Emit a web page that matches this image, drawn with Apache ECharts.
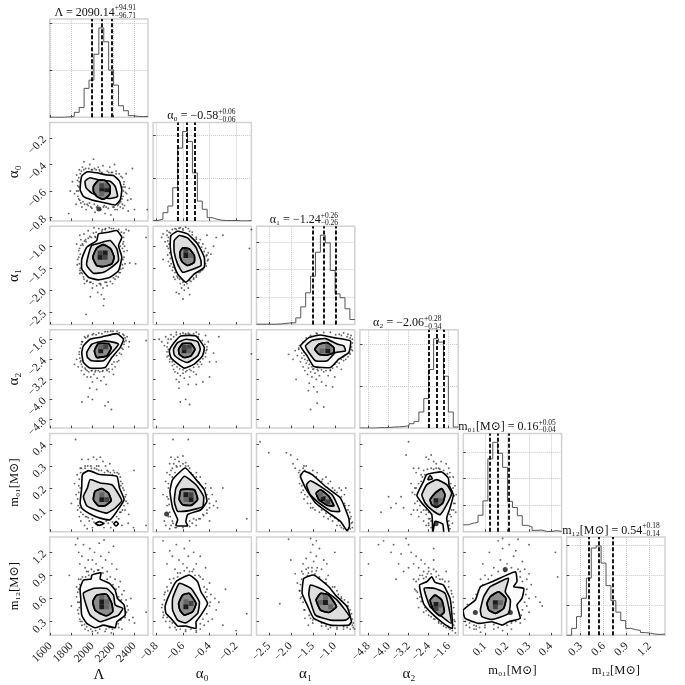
<!DOCTYPE html>
<html>
<head>
<meta charset="utf-8">
<style>html,body{margin:0;padding:0;background:#fff}#chart{width:685px;height:685px}</style>
<script src="https://cdn.jsdelivr.net/npm/echarts@6/dist/echarts.min.js"></script>
</head>
<body>
<div id="chart"></div>
<script>
// parameter names, ranges and tick labels
var names = ['Λ', 'α₀', 'α₁', 'α₂', 'm₀₁[M⊙]', 'm₁₂[M⊙]'];
var ranges = [[1594, 2528], [-0.825, -0.085], [-2.78, -0.545], [-5.145, -1.22], [0.0014, 0.448], [0.119, 1.40]];
var ticks = [
    [1600, 1800, 2000, 2200, 2400],
    [-0.8, -0.6, -0.4, -0.2],
    [-2.5, -2.0, -1.5, -1.0],
    [-4.8, -4.0, -3.2, -2.4, -1.6],
    [0.1, 0.2, 0.3, 0.4],
    [0.3, 0.6, 0.9, 1.2]
];
var tickDigits = [0, 1, 1, 1, 1, 1];

// 1d histograms, 20 bins each
var hist0 = [0, 0, 0, 2, 4, 21, 42, 123, 158, 268, 380, 321, 201, 137, 49, 28, 7, 4, 3, 4];
var hist1 = [2, 8, 38, 69, 154, 338, 415, 369, 223, 92, 54, 15, 8, 3, 2, 2, 2, 0, 0, 2];
var hist2 = [1, 1, 1, 1, 2, 4, 6, 6, 24, 64, 115, 175, 262, 324, 296, 196, 111, 97, 57, 18];
var hist3 = [0, 0, 0, 2, 2, 3, 5, 6, 8, 11, 21, 32, 77, 141, 280, 427, 411, 248, 77, 5];
var hist4 = [26, 32, 35, 62, 116, 274, 336, 295, 242, 114, 91, 60, 24, 18, 5, 6, 1, 1, 4, 1];
var hist5 = [0, 23, 62, 123, 190, 290, 297, 240, 165, 115, 77, 49, 23, 19, 16, 9, 7, 4, 3, 4];
var hists = [hist0, hist1, hist2, hist3, hist4, hist5];
var histTicks = [[200, 400], [200, 400], [100, 200, 300], [200, 400], [100, 200, 300], [100, 200, 300]];

// 16/50/84 quantiles and the titles
var quantiles = [[1993.4, 2090.1, 2185], [-0.635, -0.575, -0.513], [-1.5, -1.24, -0.98], [-2.4, -2.06, -1.78], [0.12, 0.16, 0.21], [0.40, 0.54, 0.72]];
var titleMain = ['Λ = 2090.14', 'α₀ = −0.58', 'α₁ = −1.24', 'α₂ = −2.06', 'm₀₁[M⊙] = 0.16', 'm₁₂[M⊙] = 0.54'];
var titleUp = ['+94.91', '+0.06', '+0.26', '+0.28', '+0.05', '+0.18'];
var titleDown = ['−96.71', '−0.06', '−0.26', '−0.34', '−0.04', '−0.14'];

// contours [outer, middle, inner], key is row_col
var contours = {
'1_0': [
 [[1883,-.59],[1898,-.488],[1952,-.455],[2041,-.463],[2137,-.48],[2200,-.483],[2257,-.526],[2279,-.59],[2264,-.667],[2216,-.705],[2105,-.687],[1994,-.667],[1914,-.641]],
 [[1930,-.526],[1978,-.5],[2073,-.519],[2168,-.526],[2216,-.565],[2238,-.641],[2168,-.656],[2073,-.641],[1994,-.616],[1940,-.577]],
 [[2010,-.565],[2057,-.519],[2121,-.521],[2168,-.565],[2162,-.628],[2105,-.662],[2041,-.641],[2010,-.603]]],
'2_0': [
 [[1899,-1.289],[1946,-1.023],[2041,-.872],[2057,-.72],[2152,-.682],[2232,-.645],[2279,-.796],[2248,-.985],[2279,-1.251],[2248,-1.554],[2168,-1.705],[2057,-1.766],[1962,-1.705],[1899,-1.516]],
 [[1956,-1.251],[1994,-.985],[2073,-.925],[2168,-.872],[2232,-1.061],[2248,-1.326],[2184,-1.478],[2105,-1.592],[2010,-1.614],[1946,-1.44]],
 [[2003,-1.251],[2041,-1.039],[2105,-.963],[2175,-1.061],[2206,-1.251],[2184,-1.402],[2105,-1.463],[2041,-1.44]]],
'2_1': [
 [[-.691,-.758],[-.641,-.66],[-.566,-.72],[-.49,-.948],[-.44,-1.251],[-.44,-1.478],[-.515,-1.63],[-.578,-1.819],[-.641,-1.63],[-.678,-1.326],[-.696,-1.023]],
 [[-.666,-.872],[-.628,-.758],[-.566,-.811],[-.503,-1.023],[-.465,-1.326],[-.465,-1.44],[-.54,-1.539],[-.603,-1.592],[-.641,-1.402],[-.666,-1.137]],
 [[-.623,-1.137],[-.603,-1.039],[-.553,-1.061],[-.515,-1.213],[-.515,-1.364],[-.566,-1.44],[-.603,-1.364],[-.621,-1.251]]],
'3_0': [
 [[1899,-2.128],[1914,-1.863],[1978,-1.598],[2089,-1.506],[2232,-1.373],[2295,-1.598],[2263,-1.929],[2184,-2.326],[2121,-2.723],[1978,-2.749],[1914,-2.524]],
 [[1946,-2.128],[1994,-1.797],[2105,-1.665],[2216,-1.731],[2248,-1.797],[2184,-2.128],[2105,-2.458],[1994,-2.458],[1953,-2.326]],
 [[2019,-2.061],[2057,-1.77],[2152,-1.77],[2178,-1.956],[2137,-2.26],[2041,-2.326]]],
'3_1': [
 [[-.703,-2.061],[-.666,-1.731],[-.616,-1.466],[-.503,-1.466],[-.44,-1.929],[-.453,-2.26],[-.515,-2.591],[-.591,-2.749],[-.653,-2.524],[-.691,-2.326]],
 [[-.671,-1.995],[-.641,-1.731],[-.578,-1.598],[-.49,-1.691],[-.47,-1.995],[-.49,-2.26],[-.566,-2.524],[-.628,-2.392],[-.666,-2.22]],
 [[-.633,-1.995],[-.603,-1.77],[-.54,-1.77],[-.51,-1.995],[-.54,-2.26],[-.591,-2.326],[-.628,-2.194]]],
'3_2': [
 [[-1.78,-1.863],[-1.59,-1.533],[-1.325,-1.427],[-1.022,-1.533],[-.644,-1.665],[-.682,-2.128],[-.909,-2.392],[-1.098,-2.723],[-1.477,-2.684],[-1.628,-2.26]],
 [[-1.666,-1.863],[-1.515,-1.638],[-1.212,-1.572],[-.932,-1.797],[-.795,-1.863],[-.757,-2.062],[-.985,-2.128],[-1.174,-2.459],[-1.439,-2.459],[-1.59,-2.128]],
 [[-1.454,-1.996],[-1.363,-1.797],[-1.174,-1.731],[-1.022,-1.93],[-1.022,-2.128],[-1.174,-2.234],[-1.363,-2.194]]],
'4_0': [
 [[1883,.132],[1898,.2],[1905,.261],[1962,.279],[2073,.261],[2232,.253],[2257,.2],[2301,.147],[2232,.094],[2168,.056],[2073,.063],[1978,.082],[1898,.109]],
 [[1914,.162],[1952,.2],[1978,.238],[2073,.223],[2184,.215],[2232,.185],[2279,.142],[2216,.109],[2136,.086],[2025,.101],[1946,.119]],
 [[2009,.147],[2025,.185],[2089,.197],[2152,.177],[2178,.142],[2120,.119],[2057,.119]]],
'4_1': [
 [[-.698,.185],[-.678,.238],[-.583,.291],[-.502,.238],[-.44,.192],[-.42,.139],[-.465,.101],[-.565,.079],[-.578,.045],[-.565,.029],[-.653,.029],[-.64,.056],[-.678,.109]],
 [[-.665,.139],[-.653,.2],[-.59,.253],[-.502,.215],[-.445,.162],[-.452,.116],[-.553,.097],[-.64,.094]],
 [[-.628,.147],[-.615,.192],[-.515,.192],[-.49,.147],[-.54,.121],[-.603,.124]]],
'4_2': [
 [[-1.78,.253],[-1.704,.276],[-1.515,.261],[-1.212,.207],[-.871,.154],[-.682,.063],[-.667,.026],[-.72,.006],[-.871,.048],[-1.136,.086],[-1.439,.132],[-1.666,.2]],
 [[-1.643,.215],[-1.552,.233],[-1.325,.207],[-1.06,.169],[-.886,.094],[-1.098,.097],[-1.363,.132],[-1.568,.173]],
 [[-1.424,.177],[-1.325,.192],[-1.136,.162],[-1.022,.119],[-1.174,.121],[-1.363,.147]]],
'4_3': [
 [[-2.87,.166],[-2.605,.23],[-2.473,.261],[-1.878,.273],[-1.613,.245],[-1.587,.215],[-1.415,.169],[-1.547,.109],[-1.679,.063],[-1.587,-.005],[-1.785,-.005],[-1.838,.036],[-2.142,.048],[-2.235,-.005],[-2.275,.079],[-2.671,.132]],
 [[-2.671,.169],[-2.473,.215],[-2.076,.238],[-1.679,.215],[-1.481,.177],[-1.679,.124],[-1.944,.079],[-2.275,.101],[-2.54,.132]],
 [[-2.341,.147],[-2.143,.177],[-1.878,.197],[-1.745,.169],[-1.838,.132],[-2.076,.112],[-2.275,.124]]],
'5_0': [
 [[1883,.73],[1914,.839],[1987,.852],[1994,.904],[2082,.934],[2073,.852],[2162,.795],[2216,.708],[2238,.6],[2301,.513],[2311,.382],[2232,.295],[2216,.217],[2105,.252],[2025,.217],[1946,.274],[1898,.382],[1889,.6]],
 [[1914,.665],[2009,.73],[2136,.73],[2200,.643],[2216,.513],[2289,.469],[2247,.382],[2168,.339],[2073,.295],[1978,.382],[1940,.513]],
 [[2003,.556],[2041,.643],[2136,.652],[2184,.534],[2193,.426],[2136,.373],[2073,.404],[2025,.447]]],
'5_1': [
 [[-.735,.491],[-.715,.6],[-.653,.817],[-.553,.904],[-.49,.817],[-.465,.687],[-.415,.534],[-.465,.382],[-.502,.295],[-.502,.208],[-.578,.239],[-.64,.239],[-.69,.339],[-.728,.404]],
 [[-.678,.6],[-.628,.795],[-.54,.73],[-.477,.556],[-.49,.404],[-.578,.282],[-.64,.317],[-.678,.447]],
 [[-.633,.534],[-.603,.643],[-.553,.665],[-.502,.534],[-.527,.426],[-.59,.382],[-.623,.447]]],
'5_2': [
 [[-1.742,.665],[-1.704,.86],[-1.477,.904],[-1.136,.752],[-.985,.643],[-.72,.491],[-.621,.295],[-.682,.252],[-1.098,.252],[-1.477,.339],[-1.628,.513]],
 [[-1.59,.643],[-1.552,.773],[-1.25,.708],[-.947,.578],[-.659,.36],[-.758,.317],[-1.098,.317],[-1.439,.382]],
 [[-1.424,.578],[-1.325,.665],[-1.136,.643],[-.962,.491],[-1.136,.417],[-1.325,.447]]],
'5_3': [
 [[-2.764,.773],[-2.473,.817],[-2.275,.882],[-2.143,.808],[-1.81,.773],[-1.547,.6],[-1.481,.426],[-1.454,.208],[-1.81,.274],[-2.275,.404],[-2.605,.534]],
 [[-2.579,.73],[-2.143,.73],[-1.745,.665],[-1.587,.469],[-1.507,.274],[-1.944,.382],[-2.341,.491]],
 [[-2.341,.578],[-2.143,.643],[-1.878,.578],[-1.772,.426],[-1.944,.373],[-2.209,.447]]],
'5_4': [
 [[.001,.448],[.056,.578],[.079,.752],[.132,.817],[.238,.948],[.245,.817],[.23,.752],[.276,.73],[.268,.6],[.245,.513],[.26,.339],[.207,.296],[.177,.252],[.132,.296],[.071,.274],[.01,.339]],
 [[.079,.448],[.094,.622],[.124,.752],[.207,.861],[.192,.687],[.215,.578],[.207,.404],[.132,.326],[.086,.361]],
 [[.109,.535],[.124,.622],[.162,.687],[.195,.6],[.185,.47],[.147,.404],[.117,.448]]]
};

// small extra contour islands
var islands = {
'4_0': [[[2025,.039],[2067,.047],[2111,.039],[2067,.03]], [[2203,.038],[2225,.047],[2247,.038],[2225,.027]]],
'4_3': [[[-2.434,.238],[-2.341,.257],[-2.248,.242]]]
};

// densest 2d bins: [x, y, level]
var cores = {
'1_0': [[2089,-.59,0],[2136,-.59,0],[2089,-.56,1],[2136,-.56,2],[2089,-.62,2]],
'2_0': [[2121,-1.152,0],[2073,-1.251,0],[2073,-1.152,1],[2121,-1.251,1]],
'2_1': [[-.578,-1.213,0],[-.578,-1.1,1],[-.54,-1.213,2]],
'3_0': [[2079,-2.061,0],[2079,-1.9,2],[2126,-1.9,1]],
'3_1': [[-.591,-2.06,0],[-.553,-1.93,1],[-.591,-1.93,1],[-.553,-2.06,2]],
'3_2': [[-1.159,-2.06,0],[-1.29,-2.06,2],[-1.159,-1.89,2]],
'4_0': [[2089,.147,0],[2089,.17,2],[2136,.147,1]],
'4_1': [[-.578,.169,0],[-.54,.147,0],[-.578,.147,2],[-.54,.169,1]],
'4_2': [[-1.265,.151,0],[-1.159,.136,1],[-1.325,.169,2]],
'4_3': [[-2.103,.142,0],[-2.103,.124,1],[-1.917,.142,2]],
'5_0': [[2089,.556,0],[2089,.491,0],[2136,.556,2],[2089,.62,2],[2136,.491,2]],
'5_1': [[-.578,.491,0],[-.54,.534,1],[-.578,.556,2]],
'5_2': [[-1.212,.547,0],[-1.325,.547,2],[-1.098,.491,2],[-1.212,.61,2]],
'5_3': [[-2.103,.521,0],[-2.103,.469,1],[-1.917,.513,2]],
'5_4': [[.147,.543,0],[.147,.491,1],[.17,.543,2]]
};

// thick dark spots
var blobs = {
'1_0': [[2061,-.735]],
'4_1': [[-.723,.082]],
'4_3': [[-2.103,.038]],
'5_4': [[.056,.417],[.215,.417],[.192,.978]]
};

// loose samples outside the contours
var samples = {
'1_0': [[1962,-.08],[2520,-.74],[1790,-.6],[1810,-.53],[1830,-.62],[1845,-.7],[1850,-.48],[1860,-.56],[1870,-.66],[1875,-.44],[1865,-.6],[1905,-.42],[1920,-.38],[1925,-.7],[1940,-.74],[1955,-.47],[1960,-.71],[1975,-.4],[1990,-.44],[1995,-.73],[2010,-.36],[2020,-.43],[2025,-.76],[2040,-.72],[2055,-.42],[2070,-.45],[2080,-.74],[2100,-.41],[2105,-.72],[2120,-.77],[2140,-.45],[2150,-.73],[2165,-.42],[2175,-.78],[2190,-.46],[2205,-.72],[2225,-.45],[2235,-.74],[2245,-.7],[2255,-.47],[2270,-.68],[2285,-.5],[2290,-.64],[2298,-.55],[2305,-.71],[2315,-.61],[2320,-.47],[2335,-.67],[2340,-.75],[2350,-.58],[2365,-.66],[2380,-.43],[2400,-.74],[2290,-.73],[1775,-.77],[1900,-.72],[1875,-.53],[2210,-.4]],
'2_0': [[1850,-.95],[1860,-1.3],[1870,-1.1],[1880,-.75],[1885,-1.5],[1890,-.85],[1905,-.95],[1915,-1.7],[1920,-.72],[1925,-1.85],[1940,-.9],[1945,-1.8],[1960,-.65],[1975,-.78],[1985,-1.82],[2000,-1.95],[2010,-.7],[2015,-.58],[2030,-.8],[2040,-1.9],[2050,-2.05],[2060,-.6],[2075,-1.85],[2085,-2.1],[2095,-.62],[2100,-1.95],[2110,-2.2],[2120,-1.82],[2125,-.6],[2140,-1.9],[2160,-.58],[2170,-1.8],[2190,-1.85],[2200,-.6],[2215,-1.75],[2245,-1.7],[2265,-1.6],[2290,-1.5],[2295,-.9],[2300,-1.25],[2310,-1.4],[2320,-.62],[2330,-1.1],[2345,-.65],[2300,-.7],[2355,-1.38],[2410,-1.4],[2510,-.8],[1980,-2.15],[2105,-2.35],[1940,-2.55],[2030,-1.4],[1855,-1.42],[1880,-1.62],[2285,-1.05]],
'2_1': [[-.76,-.8],[-.75,-.72],[-.735,-.9],[-.72,-.65],[-.72,-1.0],[-.71,-.8],[-.715,-1.2],[-.705,-.68],[-.71,-1.35],[-.7,-1.45],[-.68,-1.55],[-.67,-1.7],[-.66,-1.75],[-.64,-1.72],[-.62,-1.85],[-.61,-1.95],[-.65,-2.05],[-.63,-2.08],[-.6,-2.2],[-.59,-2.0],[-.56,-1.95],[-.54,-1.8],[-.52,-1.75],[-.5,-1.7],[-.48,-1.6],[-.46,-1.55],[-.43,-1.4],[-.42,-1.2],[-.41,-1.3],[-.43,-1.05],[-.45,-.95],[-.47,-.85],[-.5,-.8],[-.53,-.68],[-.56,-.6],[-.58,-.57],[-.6,-.6],[-.62,-.58],[-.65,-.62],[-.39,-1.18],[-.35,-.8],[-.3,-.75],[-.37,-1.0],[-.085,-.62],[-.1,-1.05],[-.75,-1.3],[-.55,-2.1],[-.42,-.75]],
'3_0': [[1830,-2.6],[1850,-2.4],[1865,-2.7],[1875,-2.1],[1885,-2.5],[1895,-2.85],[1900,-1.7],[1920,-3.0],[1925,-1.5],[1935,-2.8],[1950,-3.1],[1960,-1.45],[1965,-2.9],[1975,-3.55],[1985,-3.1],[1995,-2.85],[2000,-3.3],[2010,-1.38],[2015,-3.0],[2030,-2.85],[2040,-3.6],[2045,-3.15],[2060,-1.35],[2070,-2.9],[2080,-3.25],[2100,-2.85],[2110,-3.1],[2120,-1.3],[2130,-3.4],[2140,-2.85],[2160,-2.9],[2175,-1.28],[2190,-2.8],[2200,-3.0],[2215,-2.7],[2235,-2.5],[2250,-2.45],[2275,-2.2],[2290,-2.0],[2300,-1.8],[2310,-1.55],[2330,-1.5],[2350,-1.7],[2345,-1.9],[2510,-1.65],[2000,-4.0],[2180,-4.4],[2150,-4.1],[2120,-4.25],[1900,-4.1],[1960,-3.9]],
'3_1': [[-.78,-1.6],[-.76,-1.7],[-.74,-1.85],[-.73,-1.5],[-.72,-2.3],[-.71,-2.0],[-.71,-1.6],[-.7,-2.5],[-.69,-1.42],[-.68,-2.65],[-.67,-2.8],[-.66,-2.9],[-.65,-3.2],[-.64,-2.95],[-.63,-3.3],[-.62,-3.05],[-.6,-2.95],[-.59,-3.15],[-.58,-2.9],[-.56,-3.4],[-.55,-3.1],[-.54,-2.85],[-.52,-2.9],[-.5,-3.0],[-.48,-2.7],[-.46,-2.6],[-.43,-2.3],[-.42,-2.0],[-.41,-1.7],[-.4,-2.5],[-.43,-1.45],[-.48,-1.4],[-.5,-1.32],[-.55,-1.4],[-.6,-1.35],[-.65,-1.32],[-.37,-2.15],[-.33,-1.5],[-.35,-2.5],[-.63,-3.55],[-.58,-4.0],[-.55,-4.2],[-.62,-4.1],[-.085,-2.18],[-.4,-3.1],[-.5,-3.4],[-.45,-3.3]],
'3_2': [[-2.05,-2.2],[-1.95,-2.4],[-1.9,-2.05],[-1.88,-3.2],[-1.85,-2.25],[-1.82,-1.95],[-1.78,-2.5],[-1.75,-2.35],[-1.72,-2.7],[-1.7,-2.1],[-1.68,-2.85],[-1.65,-2.55],[-1.62,-3.0],[-1.6,-2.75],[-1.58,-3.35],[-1.55,-2.9],[-1.52,-3.1],[-1.5,-2.8],[-1.48,-3.5],[-1.45,-2.95],[-1.42,-3.2],[-1.4,-3.7],[-1.38,-2.85],[-1.35,-3.05],[-1.3,-3.3],[-1.25,-2.9],[-1.2,-3.45],[-1.15,-3.05],[-1.1,-2.85],[-1.05,-3.5],[-1.0,-3.1],[-.95,-2.7],[-.9,-2.55],[-.85,-2.8],[-.8,-2.45],[-.75,-2.4],[-.7,-2.3],[-.65,-2.2],[-.62,-2.0],[-.6,-1.75],[-.63,-1.45],[-.7,-1.4],[-.8,-1.35],[-.9,-1.4],[-1.1,-1.32],[-1.4,-1.38],[-1.4,-4.15],[-1.55,-4.4],[-1.25,-4.3],[-1.6,-3.65]],
'4_0': [[1840,.42],[1800,.13],[1830,.22],[1845,.17],[1855,.26],[1860,.1],[1870,.21],[1875,.07],[1885,.29],[1890,.05],[1900,.33],[1915,.27],[1925,.03],[1930,.3],[1945,.07],[1950,.015],[1960,.33],[1970,.05],[1985,.3],[2000,.02],[2010,.34],[2020,.29],[2040,.33],[2050,.03],[2060,.3],[2075,.34],[2085,.28],[2100,.32],[2110,.02],[2125,.3],[2140,.28],[2150,.04],[2165,.31],[2175,.02],[2190,.045],[2200,.28],[2215,.04],[2235,.27],[2250,.06],[2265,.25],[2270,.09],[2285,.22],[2300,.19],[2310,.1],[2320,.17],[2335,.13],[2345,.08],[2395,.28],[2390,.02],[2510,.03],[2340,.04],[2280,.03],[2040,.3]],
'4_1': [[-.675,.42],[-.56,.42],[-.69,.34],[-.66,.33],[-.64,.34],[-.72,.27],[-.7,.31],[-.68,.29],[-.65,.3],[-.63,.32],[-.6,.31],[-.56,.3],[-.54,.27],[-.73,.23],[-.71,.2],[-.75,.17],[-.72,.12],[-.74,.05],[-.73,.03],[-.71,.07],[-.7,.015],[-.68,.05],[-.66,.02],[-.6,.02],[-.55,.025],[-.53,.04],[-.5,.03],[-.48,.06],[-.45,.08],[-.42,.1],[-.4,.13],[-.38,.17],[-.37,.12],[-.35,.14],[-.34,.11],[-.39,.2],[-.43,.22],[-.47,.25],[-.5,.27],[-.3,.2],[-.12,.06],[-.4,.05],[-.71,.15],[-.69,.03],[-.58,.315]],
'4_2': [[-2.1,.36],[-2.0,.35],[-1.95,.31],[-1.9,.29],[-1.85,.33],[-1.8,.28],[-1.78,.26],[-1.75,.21],[-1.72,.29],[-1.68,.28],[-1.6,.27],[-1.72,.19],[-1.68,.17],[-1.62,.16],[-1.55,.13],[-1.5,.11],[-1.4,.27],[-1.35,.09],[-1.25,.07],[-1.15,.06],[-1.05,.05],[-.95,.03],[-.85,.02],[-.8,.015],[-.7,.1],[-.68,.12],[-.65,.06],[-.62,.04],[-.6,.02],[-.78,.17],[-.85,.19],[-.9,.2],[-1.0,.19],[-1.1,.23],[-1.2,.25],[-1.28,.24],[-2.7,.41],[-2.5,.36],[-1.7,.3],[-.75,.2]],
'4_3': [[-3.2,.41],[-3.3,.35],[-2.5,.34],[-2.4,.33],[-2.3,.35],[-2.2,.32],[-2.1,.31],[-2.0,.29],[-1.9,.32],[-1.7,.31],[-3.0,.29],[-2.9,.27],[-2.8,.29],[-2.7,.26],[-2.6,.28],[-3.1,.22],[-3.05,.18],[-2.95,.2],[-2.95,.13],[-3.0,.1],[-3.1,.08],[-2.85,.1],[-2.8,.07],[-2.7,.09],[-2.6,.05],[-2.5,.08],[-2.4,.06],[-2.3,.02],[-2.4,.03],[-2.5,.03],[-1.5,.07],[-1.45,.04],[-1.4,.1],[-1.35,.13],[-1.3,.17],[-1.35,.21],[-1.42,.25],[-1.55,.27],[-1.6,.29],[-1.32,.09],[-4.3,.09],[-3.9,.11],[-3.7,.13],[-4.0,.16],[-3.5,.16],[-3.4,.11],[-2.7,.15],[-1.7,.02]],
'5_0': [[1840,1.3],[1860,1.38],[1870,1.2],[1880,1.05],[1900,1.15],[1915,1.3],[1930,1.0],[1945,.95],[1960,1.1],[1975,1.25],[1990,.98],[2000,1.1],[2020,1.2],[2035,1.05],[2050,.97],[2065,1.32],[2080,1.15],[2095,1.0],[2110,1.36],[2125,1.1],[2140,.95],[2155,1.2],[2170,.88],[2185,1.05],[2200,1.28],[2215,.85],[2230,.98],[2250,.75],[2265,.82],[2280,.65],[2300,.7],[2320,.58],[2340,.45],[2350,.32],[2365,.6],[2385,.35],[2400,.28],[2510,.42],[1850,.62],[1860,.45],[1870,.85],[1880,.33],[1875,.55],[1900,.25],[1930,.2],[1960,.18],[2000,.17],[2050,.15],[2120,.17],[2180,.15],[2250,.22],[2280,.2],[1800,.5],[1780,.9],[1960,.95]],
'5_1': [[-.75,1.35],[-.7,1.22],[-.72,1.05],[-.68,1.15],[-.66,.98],[-.65,1.3],[-.63,1.1],[-.62,.93],[-.6,1.05],[-.59,1.25],[-.57,1.0],[-.56,1.15],[-.55,1.35],[-.53,.95],[-.52,1.2],[-.5,1.05],[-.48,.9],[-.47,1.15],[-.45,.85],[-.43,1.0],[-.42,.72],[-.4,.8],[-.39,.65],[-.36,.6],[-.35,.45],[-.33,.55],[-.38,.33],[-.41,.3],[-.44,.25],[-.47,.2],[-.5,.16],[-.58,.17],[-.65,.19],[-.7,.22],[-.73,.3],[-.75,.35],[-.76,.48],[-.74,.65],[-.72,.75],[-.7,.85],[-.3,.25],[-.2,.18],[-.12,.4],[-.52,.98],[-.64,.88],[-.28,.72]],
'5_2': [[-2.25,.53],[-2.0,1.1],[-2.05,1.37],[-1.9,.92],[-1.85,.8],[-1.8,.7],[-1.78,.6],[-1.75,.95],[-1.72,1.05],[-1.7,.45],[-1.65,1.12],[-1.62,.9],[-1.6,1.0],[-1.58,.38],[-1.55,1.2],[-1.52,.95],[-1.5,1.3],[-1.48,1.08],[-1.45,.92],[-1.42,1.15],[-1.4,1.0],[-1.35,1.25],[-1.3,.98],[-1.25,1.1],[-1.2,.85],[-1.15,.9],[-1.18,1.05],[-1.0,.75],[-.95,.7],[-.85,.62],[-.78,.58],[-.7,.5],[-.62,.4],[-.6,.25],[-.58,.22],[-.65,.2],[-.8,.2],[-.95,.22],[-1.15,.2],[-1.3,.24],[-1.5,.28],[-1.6,.25],[-1.68,.34],[-1.0,1.2],[-1.42,1.35],[-1.55,1.38]],
'5_3': [[-4.8,1.05],[-4.4,1.3],[-4.2,1.35],[-3.9,1.2],[-3.8,1.3],[-3.6,1.05],[-3.5,1.18],[-3.3,1.38],[-3.2,1.3],[-3.1,1.2],[-3.0,1.05],[-3.0,.85],[-2.9,1.15],[-2.8,1.0],[-2.75,.9],[-2.7,1.1],[-2.6,.95],[-2.55,1.05],[-2.5,.88],[-2.4,1.0],[-2.3,.92],[-2.2,1.1],[-2.1,.95],[-2.0,.9],[-1.85,.85],[-1.7,.95],[-1.6,.82],[-1.5,.7],[-1.42,.55],[-1.38,.4],[-1.35,.3],[-1.4,.25],[-1.6,.22],[-1.8,.24],[-2.0,.28],[-2.2,.33],[-2.4,.38],[-2.6,.42],[-2.8,.48],[-2.85,.6],[-2.9,.7],[-3.4,.95],[-3.2,1.0],[-2.2,1.25],[-3.7,.85]],
'5_4': [[.09,1.05],[.12,1.2],[.14,1.0],[.16,1.35],[.17,1.1],[.18,1.25],[.2,1.05],[.21,1.3],[.22,1.0],[.23,1.15],[.24,1.22],[.26,.95],[.27,1.08],[.28,.98],[.29,.85],[.3,.92],[.31,.78],[.33,.62],[.35,.55],[.36,.5],[.42,1.2],[.43,.88],[.3,.42],[.28,.33],[.26,.28],[.22,.2],[.18,.18],[.14,.2],[.1,.22],[.06,.2],[.03,.22],[.015,.25],[.05,.25],[.08,.16],[.04,.3],[.02,.38],[.035,.5],[.06,.65],[.08,.85],[.1,.9],[.18,1.38],[.3,1.3],[.16,.95],[.11,.78],[.25,1.37]]
};

// samples crowding right around the outer contour
var samplesNear = {
'1_0': [[1850,-.6],[1858,-.52],[1862,-.64],[1870,-.5],[1872,-.57],[1880,-.67],[1885,-.47],[1895,-.45],[1890,-.69],[1910,-.68],[1918,-.44],[1935,-.43],[1950,-.7],[1965,-.43],[1972,-.69],[1985,-.72],[2000,-.44],[2018,-.7],[2035,-.44],[2050,-.71],[2065,-.44],[2090,-.46],[2112,-.71],[2130,-.72],[2155,-.46],[2180,-.46],[2195,-.72],[2225,-.47],[2240,-.71],[2258,-.69],[2272,-.49],[2280,-.66],[2290,-.57],[2295,-.6],[2300,-.53],[2310,-.57],[2325,-.62],[2265,-.72],[2285,-.7],[2215,-.74]],
'2_0': [[1870,-1.25],[1875,-1.4],[1878,-1.05],[1882,-1.55],[1885,-1.18],[1890,-.98],[1893,-1.6],[1905,-1.62],[1910,-.98],[1920,-1.75],[1925,-.88],[1935,-.85],[1950,-1.78],[1960,-.82],[1975,-1.82],[1990,-.8],[2005,-1.85],[2025,-.78],[2035,-.68],[2065,-1.85],[2080,-1.88],[2090,-.66],[2120,-.62],[2135,-1.82],[2180,-.6],[2200,-1.72],[2225,-1.68],[2250,-.62],[2255,-1.6],[2270,-1.52],[2275,-.68],[2290,-1.3],[2295,-.8],[2300,-1.12],[2285,-1.42],[2290,-.95],[2305,-1.0],[2265,-1.0]],
'2_1': [[-.72,-.75],[-.715,-.88],[-.71,-1.05],[-.705,-.95],[-.7,-1.15],[-.695,-.7],[-.695,-1.28],[-.69,-1.4],[-.68,-.62],[-.675,-1.48],[-.66,-1.6],[-.66,-.6],[-.645,-1.68],[-.63,-.59],[-.625,-1.75],[-.6,-1.82],[-.6,-.63],[-.59,-1.88],[-.57,-1.85],[-.55,-.66],[-.55,-1.78],[-.53,-.74],[-.52,-1.72],[-.5,-.84],[-.5,-1.66],[-.48,-.92],[-.47,-1.58],[-.46,-1.02],[-.45,-1.53],[-.44,-1.12],[-.425,-1.22],[-.425,-1.45],[-.415,-1.33],[-.41,-1.15]],
'3_0': [[1875,-2.2],[1880,-2.35],[1885,-1.95],[1890,-2.45],[1895,-1.8],[1895,-2.6],[1905,-1.7],[1905,-2.7],[1930,-2.75],[1935,-1.55],[1950,-2.85],[1955,-1.5],[1990,-2.85],[2000,-1.42],[2025,-2.9],[2035,-1.42],[2055,-2.85],[2090,-1.38],[2095,-2.88],[2135,-2.8],[2145,-1.3],[2155,-2.78],[2185,-2.6],[2195,-1.28],[2205,-2.5],[2235,-1.28],[2230,-2.25],[2255,-1.35],[2258,-2.15],[2280,-1.95],[2290,-1.4],[2300,-1.45],[2305,-1.7],[2320,-1.65]],
'3_1': [[-.72,-2.1],[-.72,-1.9],[-.715,-1.75],[-.71,-2.25],[-.7,-2.4],[-.69,-1.6],[-.68,-2.5],[-.67,-1.5],[-.665,-2.6],[-.65,-1.42],[-.645,-2.7],[-.625,-2.78],[-.62,-1.38],[-.6,-2.82],[-.58,-1.38],[-.57,-2.85],[-.56,-1.36],[-.55,-2.8],[-.52,-1.38],[-.52,-2.72],[-.49,-2.6],[-.485,-1.5],[-.47,-2.5],[-.455,-1.65],[-.45,-2.38],[-.435,-1.8],[-.43,-2.15],[-.42,-1.9],[-.425,-2.05]],
'3_2': [[-1.82,-2.0],[-1.8,-1.85],[-1.75,-2.15],[-1.72,-1.72],[-1.7,-2.25],[-1.68,-2.4],[-1.65,-1.55],[-1.62,-2.45],[-1.58,-2.6],[-1.55,-1.45],[-1.52,-2.7],[-1.48,-2.78],[-1.42,-1.36],[-1.4,-2.8],[-1.3,-2.82],[-1.25,-1.33],[-1.2,-2.85],[-1.1,-2.82],[-1.05,-2.75],[-1.0,-2.6],[-.95,-2.5],[-.98,-1.42],[-.85,-2.4],[-.8,-2.3],[-.85,-1.45],[-.75,-2.2],[-.72,-1.5],[-.65,-1.55],[-.6,-1.6],[-.62,-1.9],[-.6,-2.05],[-.66,-2.15]],
'4_0': [[1860,.15],[1865,.12],[1870,.18],[1875,.24],[1880,.11],[1885,.2],[1888,.27],[1890,.09],[1895,.29],[1910,.08],[1930,.29],[1935,.07],[1955,.3],[1960,.065],[1990,.29],[2000,.06],[2015,.045],[2040,.285],[2060,.28],[2085,.04],[2115,.27],[2130,.05],[2150,.275],[2170,.27],[2190,.26],[2210,.27],[2230,.07],[2250,.265],[2260,.09],[2270,.23],[2285,.1],[2290,.2],[2300,.12],[2312,.16],[2320,.14],[2270,.21]],
'4_1': [[-.72,.16],[-.71,.22],[-.705,.125],[-.7,.26],[-.7,.09],[-.69,.28],[-.695,.07],[-.68,.25],[-.675,.04],[-.67,.31],[-.66,.27],[-.645,.295],[-.62,.3],[-.6,.345],[-.58,.3],[-.55,.29],[-.525,.26],[-.5,.25],[-.48,.225],[-.46,.2],[-.43,.2],[-.42,.17],[-.405,.15],[-.4,.11],[-.42,.085],[-.445,.075],[-.47,.06],[-.5,.055],[-.52,.06],[-.55,.05],[-.65,.02],[-.6,.05]],
'4_2': [[-1.8,.22],[-1.82,.27],[-1.78,.25],[-1.76,.18],[-1.7,.15],[-1.65,.3],[-1.62,.13],[-1.58,.27],[-1.55,.11],[-1.5,.28],[-1.45,.1],[-1.42,.25],[-1.3,.1],[-1.3,.23],[-1.2,.085],[-1.15,.22],[-1.1,.07],[-1.05,.2],[-1.0,.065],[-.95,.18],[-.92,.05],[-.85,.16],[-.88,.03],[-.78,.13],[-.8,.03],[-.75,.1],[-.72,.08],[-.66,.09],[-.63,.07],[-.6,.045],[-.65,.015],[-.76,.12]],
'4_3': [[-2.95,.17],[-2.9,.2],[-2.85,.14],[-2.8,.22],[-2.75,.12],[-2.7,.23],[-2.65,.25],[-2.6,.1],[-2.55,.26],[-2.5,.1],[-2.45,.285],[-2.4,.09],[-2.35,.06],[-2.3,.29],[-2.2,.285],[-2.1,.29],[-2.4,.04],[-1.95,.285],[-1.8,.28],[-1.65,.265],[-1.55,.25],[-1.52,.22],[-1.42,.2],[-1.38,.165],[-1.4,.13],[-1.48,.1],[-1.55,.08],[-1.6,.05],[-1.58,.03],[-1.55,.015],[-2.3,.05]],
'5_0': [[1850,.75],[1860,.68],[1862,.55],[1868,.4],[1870,.72],[1875,.48],[1880,.78],[1885,.3],[1890,.85],[1900,.3],[1905,.88],[1925,.26],[1935,.88],[1945,.23],[1965,.9],[1985,.2],[2015,.95],[2030,.18],[2060,.97],[2070,.2],[2100,.93],[2130,.2],[2140,.85],[2160,.22],[2190,.2],[2195,.78],[2225,.72],[2245,.27],[2250,.62],[2270,.32],[2275,.58],[2310,.35],[2325,.42],[2330,.5],[2265,.56]],
'5_1': [[-.755,.52],[-.75,.42],[-.74,.58],[-.745,.38],[-.735,.68],[-.72,.35],[-.715,.7],[-.7,.3],[-.69,.8],[-.68,.28],[-.67,.86],[-.66,.22],[-.62,.2],[-.64,.93],[-.59,.96],[-.58,.19],[-.55,.95],[-.54,.2],[-.51,.9],[-.5,.18],[-.47,.88],[-.47,.27],[-.45,.33],[-.44,.75],[-.42,.4],[-.42,.62],[-.4,.5],[-.395,.55],[-.43,.68]],
'5_2': [[-1.8,.7],[-1.78,.78],[-1.76,.62],[-1.75,.85],[-1.72,.55],[-1.72,.92],[-1.68,.45],[-1.65,.98],[-1.6,.93],[-1.55,.34],[-1.52,1.0],[-1.5,.32],[-1.42,.96],[-1.35,.88],[-1.3,.28],[-1.2,.8],[-1.2,.24],[-1.1,.22],[-1.05,.75],[-.95,.2],[-.92,.65],[-.85,.6],[-.8,.23],[-.72,.22],[-.7,.55],[-.65,.45],[-.6,.33],[-.58,.28],[-.55,.2],[-1.6,.83],[-1.7,.75]],
'5_3': [[-2.95,.72],[-2.9,.82],[-2.85,.68],[-2.8,.85],[-2.75,.62],[-2.7,.56],[-2.65,.9],[-2.6,.86],[-2.55,.48],[-2.5,.44],[-2.45,.92],[-2.4,.95],[-2.3,.36],[-2.2,.98],[-2.15,.33],[-2.1,.88],[-2.0,.3],[-1.95,.85],[-1.9,.27],[-1.75,.82],[-1.7,.22],[-1.6,.75],[-1.55,.2],[-1.48,.66],[-1.42,.62],[-1.4,.48],[-1.38,.32],[-1.35,.21],[-1.33,.15],[-1.45,.18]],
'5_4': [[.01,.3],[.02,.52],[.03,.28],[.045,.6],[.05,.2],[.06,.24],[.07,.7],[.075,.22],[.09,.78],[.1,.25],[.115,.85],[.13,.9],[.14,.26],[.16,.22],[.16,.85],[.19,.95],[.2,.25],[.21,.9],[.22,.28],[.24,.3],[.25,.98],[.265,.38],[.27,.45],[.28,.55],[.285,.65],[.29,.72],[.27,.82],[.26,.88],[.29,.5],[.3,.6]]
};

// panel layout in the page
var panelLeft = 49.7, panelTop = 19, panelSize = 98.3, pitchX = 103.4, pitchY = 103.6;
var titleShift = [16, 16, 15, 15, 26, 26.5];
var serif = '"Liberation Serif", "DejaVu Serif", serif';

var grids = [], xAxes = [], yAxes = [], series = [], graphics = [];

function formatTick(v, digits) {
    return v.toFixed(digits).replace('-', '−');
}

function nameSize(i) {
    return i > 3 ? 12.5 : 15;
}

function addAxes(row, col, xIdx, yRange, yTicks, isHist) {
    var showX = row === 5;
    var showY = col === 0 && row > 0;
    xAxes.push({
        gridIndex: grids.length - 1, type: 'value', min: ranges[xIdx][0], max: ranges[xIdx][1],
        axisLine: {show: false},
        axisTick: {inside: true, length: 2.5, lineStyle: {color: '#444', width: 1}, customValues: ticks[xIdx]},
        splitLine: {show: isHist, customValues: ticks[xIdx], lineStyle: {color: '#c8c8c8', width: 1, type: 'dotted'}},
        axisLabel: {show: showX, rotate: 45, margin: 9, fontFamily: serif, fontSize: 11.5, color: '#222', customValues: ticks[xIdx],
            formatter: function(v) { return formatTick(v, tickDigits[xIdx]); }},
        name: showX ? names[xIdx] : '', nameLocation: 'middle', nameGap: 29,
        nameTextStyle: {fontFamily: serif, fontSize: nameSize(xIdx), color: '#111'}
    });
    yAxes.push({
        gridIndex: grids.length - 1, type: 'value', min: yRange[0], max: yRange[1],
        axisLine: {show: false},
        axisTick: {inside: true, length: 2.5, lineStyle: {color: '#444', width: 1}, customValues: yTicks},
        splitLine: {show: isHist, customValues: yTicks, lineStyle: {color: '#c8c8c8', width: 1, type: 'dotted'}},
        axisLabel: {show: showY, rotate: 45, margin: 5, fontFamily: serif, fontSize: 11.5, color: '#222', customValues: yTicks,
            formatter: function(v) { return formatTick(v, tickDigits[row]); }},
        name: showY ? names[row] : '', nameLocation: 'middle', nameGap: 28, nameRotate: 90,
        nameTextStyle: {fontFamily: serif, fontSize: nameSize(row), color: '#111'}
    });
}

function polygonSeries(idx, pts, fill, stroke, z) {
    return {
        type: 'custom', xAxisIndex: idx, yAxisIndex: idx, silent: true, clip: true, z: z,
        data: pts, encode: {x: 0, y: 1},
        renderItem: function(params, api) {
            if (params.context.rendered) return;
            params.context.rendered = true;
            return {
                type: 'polygon',
                shape: {points: pts.map(function(p) { return api.coord(p); }), smooth: 0.15},
                style: {fill: fill, stroke: stroke, lineWidth: 1.6}
            };
        }
    };
}

var coreColors = ['#1c1c1c', '#444', '#666'];
function coreSeries(idx, cells, xIdx, yIdx) {
    var w = (ranges[xIdx][1] - ranges[xIdx][0]) / 20;
    var h = (ranges[yIdx][1] - ranges[yIdx][0]) / 20;
    return {
        type: 'custom', xAxisIndex: idx, yAxisIndex: idx, silent: true, clip: true, z: 6,
        data: cells, encode: {x: 0, y: 1},
        renderItem: function(params, api) {
            var c = api.coord([api.value(0), api.value(1)]);
            var s = api.size([w, h]);
            return {
                type: 'rect',
                shape: {x: c[0] - s[0] / 2, y: c[1] - s[1] / 2, width: s[0], height: s[1]},
                style: {fill: coreColors[api.value(2)]}
            };
        }
    };
}

for (var row = 0; row < 6; row++) {
    for (var col = 0; col <= row; col++) {
        (function(row, col) {
            var idx = grids.length;
            var left = panelLeft + col * pitchX, top = panelTop + row * pitchY;
            grids.push({left: left, top: top, width: panelSize, height: panelSize,
                show: true, borderColor: '#d2d2d2', borderWidth: 1.5, backgroundColor: '#fff'});
            if (row === col) {
                // histogram on the diagonal
                var h = hists[row];
                var peak = Math.max.apply(null, h);
                addAxes(row, col, col, [0, peak * 1.1], histTicks[row], true);
                var lo = ranges[col][0], w = (ranges[col][1] - lo) / 20;
                var steps = h.map(function(v, i) { return [lo + i * w, v]; });
                steps.push([lo + 20 * w, h[19]]);
                series.push({
                    type: 'line', xAxisIndex: idx, yAxisIndex: idx, step: 'end', showSymbol: false, silent: true,
                    data: steps, lineStyle: {color: '#555', width: 1},
                    markLine: {
                        silent: true, symbol: 'none', label: {show: false},
                        lineStyle: {color: '#000', width: 1.8, type: [4, 2]},
                        data: quantiles[col].map(function(q) { return {xAxis: q}; })
                    }
                });
                var splitX = left + panelSize / 2 + titleShift[row];
                graphics.push({type: 'text', x: splitX, y: top - 6.5, style: {text: titleMain[row], align: 'right', verticalAlign: 'middle',
                    font: '12px ' + serif, fill: '#111'}});
                graphics.push({type: 'text', x: splitX, y: top - 10.5, style: {text: titleUp[row], align: 'left', verticalAlign: 'middle',
                    font: '7.5px ' + serif, fill: '#111'}});
                graphics.push({type: 'text', x: splitX, y: top - 3, style: {text: titleDown[row], align: 'left', verticalAlign: 'middle',
                    font: '7.5px ' + serif, fill: '#111'}});
            } else {
                addAxes(row, col, col, ranges[row], ticks[row], false);
                var key = row + '_' + col;
                series.push({
                    type: 'scatter', xAxisIndex: idx, yAxisIndex: idx, silent: true, symbolSize: 1.9,
                    data: samples[key].concat(samplesNear[key]), itemStyle: {color: '#000', opacity: 0.6}, z: 2
                });
                var levels = contours[key];
                series.push(polygonSeries(idx, levels[0], '#fbfbfb', '#000', 3));
                series.push(polygonSeries(idx, levels[1], '#dedede', '#000', 4));
                series.push(polygonSeries(idx, levels[2], '#8c8c8c', '#000', 5));
                series.push(coreSeries(idx, cores[key], col, row));
                series.push(polygonSeries(idx, levels[2], 'none', '#000', 7));
                (islands[key] || []).forEach(function(pts) {
                    series.push(polygonSeries(idx, pts, '#fff', '#000', 7));
                });
                if (blobs[key]) {
                    series.push({
                        type: 'scatter', xAxisIndex: idx, yAxisIndex: idx, silent: true, symbolSize: 5,
                        data: blobs[key], itemStyle: {color: '#111'}, z: 8
                    });
                }
            }
        })(row, col);
    }
}

var chart = echarts.init(document.getElementById('chart'));
chart.setOption({
    animation: false,
    backgroundColor: '#fff',
    grid: grids,
    xAxis: xAxes,
    yAxis: yAxes,
    series: series,
    graphic: graphics
});
</script>
</body>
</html>
